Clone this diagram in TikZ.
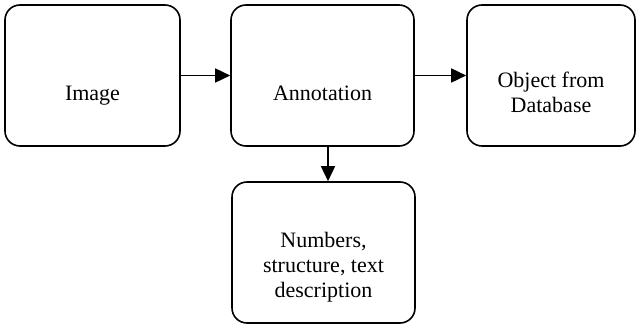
\documentclass[tikz,border=0pt]{standalone}
\usepackage{fontspec}
\setmainfont{Liberation Serif}
\newfontfamily\boxfont{Liberation Serif}
\usepackage{tikz}
\usetikzlibrary{arrows.meta}

\begin{document}
\begin{tikzpicture}[x=1pt, y=-1pt,
	box/.style={draw, line width=1.6pt, rounded corners=15pt, minimum height=141pt, inner sep=0pt},
	txt/.style={inner sep=0pt, align=center, font=\boxfont\fontsize{22}{25}\selectfont},
	arr/.style={line width=1.6pt, -{Triangle[length=15pt, width=14pt]}}]
	\useasboundingbox (0,0) rectangle (636,326);
	\node[box, minimum width=175pt] (img) at (92.5,75.5) {};
	\node[box, minimum width=183pt] (ann) at (322.5,75.5) {};
	\node[box, minimum width=168pt] (obj) at (551,75.5) {};
	\node[box, minimum width=183pt] (num) at (323.5,252.5) {};
	\node[txt, anchor=base] (imgtxt) at ([yshift=-25.5pt]img.center) {Image};
	\node[txt, anchor=base] (anntxt) at ([yshift=-25.5pt]ann.center) {Annotation};
	\node[txt, anchor=north] (objtxt) at ([yshift=3.7pt]obj.center) {Object from\\Database};
	\node[txt, anchor=north] (numtxt) at ([yshift=20.8pt]num.center) {Numbers,\\structure, text\\description};
	\draw[arr] (img) -- (ann);
	\draw[arr] (ann) -- (obj);
	\draw[arr] ([xshift=5.5pt]ann.south) -- ([xshift=5.5pt]ann.south |- num.north);
\end{tikzpicture}
\end{document}
